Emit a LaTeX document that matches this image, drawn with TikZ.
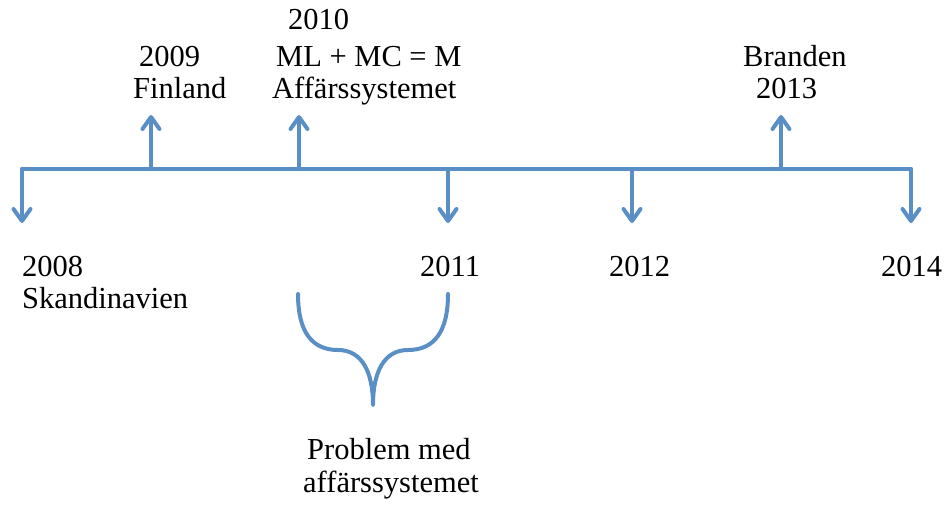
\documentclass[tikz,border=0pt]{standalone}
\usepackage{fontspec}
\setmainfont{Liberation Serif}
\usetikzlibrary{arrows.meta}
\definecolor{lineblue}{RGB}{90,143,198}
\begin{document}
\begin{tikzpicture}[x=1pt,y=-1pt,
  tl/.style={draw=lineblue,line width=4pt,line cap=round,line join=round},
  arr/.style={tl,-{Straight Barb[length=12pt,width=17pt,line width=4pt,round]}},
  lbl/.style={anchor=base west,inner sep=0pt,font=\fontsize{30.5pt}{32pt}\selectfont}]
\useasboundingbox (0,0) rectangle (949,505);
% main line points
\coordinate (l) at (22,169);
\coordinate (r) at (911,169);
\coordinate (p9) at (151,169);
\coordinate (p10) at (299,169);
\coordinate (p11) at (448,169);
\coordinate (p12) at (632,169);
\coordinate (p13) at (781,169);
\coordinate (t8) at (22,223);
\coordinate (t9) at (151,115);
\coordinate (t10) at (299,115);
\coordinate (t11) at (448,223);
\coordinate (t12) at (632,223);
\coordinate (t13) at (781,115);
\coordinate (t14) at (911,223);
\draw[tl] (l) -- (r);
\draw[arr] (l) -- (t8);
\draw[arr] (p9) -- (t9);
\draw[arr] (p10) -- (t10);
\draw[arr] (p11) -- (t11);
\draw[arr] (p12) -- (t12);
\draw[arr] (p13) -- (t13);
\draw[arr] (r) -- (t14);
% brace
\coordinate (bl) at (298,294);
\coordinate (br) at (448,294);
\coordinate (bt) at (373,405);
\draw[tl] (bl) .. controls (298,332) and (312,350) .. (338,350)
  .. controls (362,350) and (373,372) .. (bt)
  .. controls (373,372) and (384,350) .. (408,350)
  .. controls (434,350) and (448,332) .. (br);
% labels
\node[lbl] (y2008) at (22,276) {2008};
\node[lbl] (skand) at (22,308) {Skandinavien};
\node[lbl] (y2009) at (139,67) {2009};
\node[lbl] (fin) at (133,99) {Finland};
\node[lbl] (y2010) at (288,30) {2010};
\node[lbl] (mlmc) at (276,67) {ML + MC = M};
\node[lbl] (aff) at (272,99) {Affärssystemet};
\node[lbl] (y2011) at (420,276) {2011};
\node[lbl] (y2012) at (609,276) {2012};
\node[lbl] (y2014) at (881,276) {2014};
\node[lbl] (brand) at (743,67) {Branden};
\node[lbl] (y2013) at (756,99) {2013};
\node[lbl] (prob) at (307,459) {Problem med};
\node[lbl] (affs) at (303,492) {affärssystemet};
\end{tikzpicture}
\end{document}
